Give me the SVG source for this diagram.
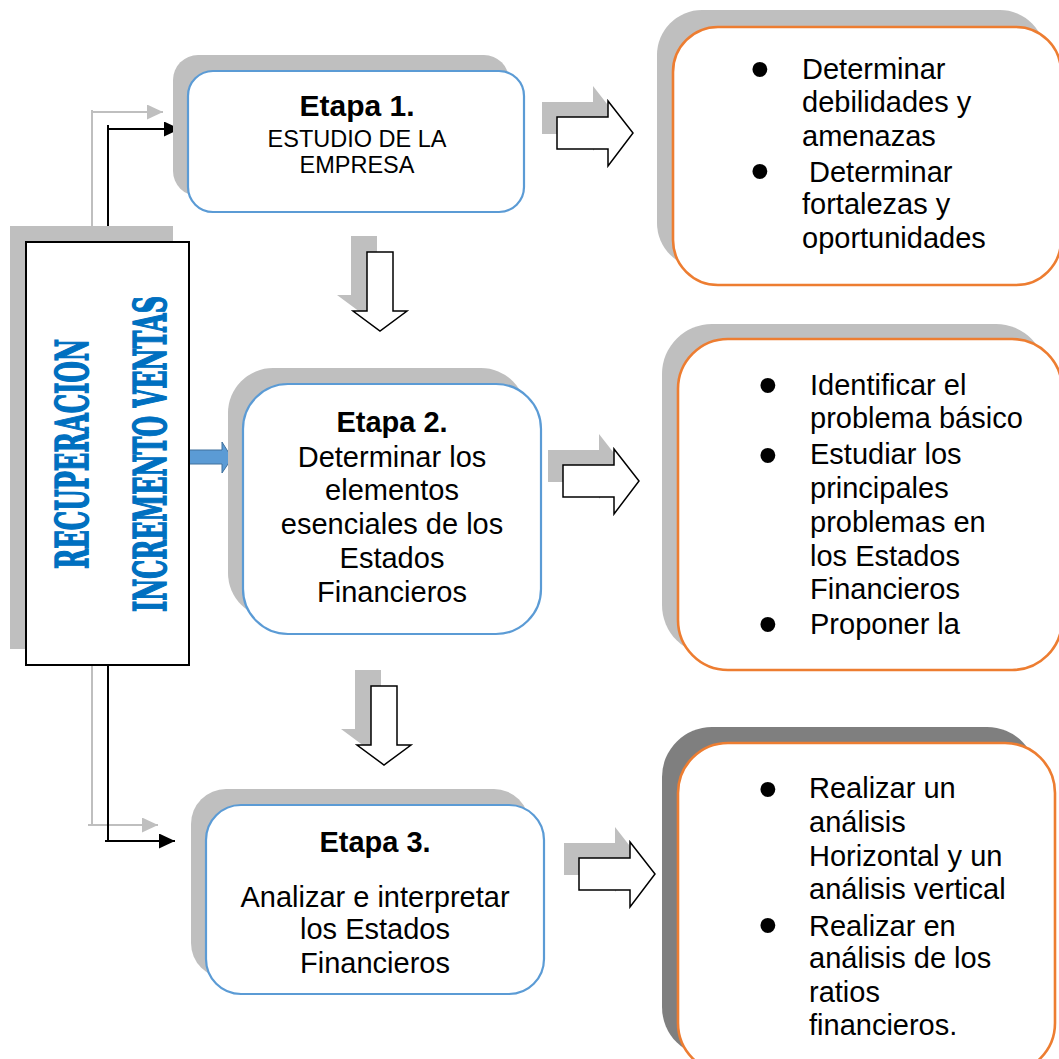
<svg xmlns="http://www.w3.org/2000/svg" xmlns:xlink="http://www.w3.org/1999/xlink" width="1059" height="1059" viewBox="0 0 1059 1059">
<style>
.sh{fill:#bfbfbf}
.shd{fill:#7f7f7f}
.stage{fill:#ffffff;stroke:#5b9bd5;stroke-width:2.2}
.task{fill:#ffffff;stroke:#ed7d31;stroke-width:2.6}
.t{font-family:'Liberation Sans',Arial,sans-serif;font-size:29px;fill:#000}
.tb{font-family:'Liberation Sans',Arial,sans-serif;font-size:29px;font-weight:bold;fill:#000}
.c{text-anchor:middle}
.bul{font-family:'Liberation Sans',Arial,sans-serif;font-size:55px;text-anchor:middle;fill:#000}
.vt{font-family:'DejaVu Serif','Liberation Serif',serif;font-weight:bold;font-size:45px;fill:#0070c0;stroke:#0070c0;stroke-width:1.6;text-anchor:middle}
.blk{fill:#ffffff;stroke:#000;stroke-width:1.5;stroke-linejoin:miter}
.lg{fill:none;stroke:#bfbfbf;stroke-width:2}
.lb{fill:none;stroke:#000;stroke-width:2}
</style>
<defs>
<marker id="ahb" markerUnits="userSpaceOnUse" markerWidth="16" markerHeight="16" refX="16" refY="7.5" orient="auto">
<path d="M0,0 L16,7.5 L0,15 Z" fill="#000"/>
</marker>
<marker id="ahg" markerUnits="userSpaceOnUse" markerWidth="16" markerHeight="16" refX="16" refY="7.5" orient="auto">
<path d="M0,0 L16,7.5 L0,15 Z" fill="#bfbfbf"/>
</marker>
<path id="ra" d="M0,0 H51 V-16 L76,16 L51,49 V32 H0 Z"/>
<path id="da" d="M0,0 H26 V59 H40 L13,79 L-14,59 H0 Z"/>
</defs>

<g id="connectors">
<path class="lg" d="M92,242 V110 M91,112 H163" marker-end="url(#ahg)"/>
<path class="lb" d="M108,242 V125 M107,129 H180" marker-end="url(#ahb)"/>
<path class="lg" d="M92,665 V825 M88,825 H158" marker-end="url(#ahg)"/>
<path class="lb" d="M108,665 V841 M105,841 H175" marker-end="url(#ahb)"/>
<path d="M189,450 H222 V442 L232,458 L222,473 V464 H189 Z" fill="#5b9bd5" stroke="#41719c" stroke-width="1"/>
<use xlink:href="#da" class="sh" x="351" y="236"/>
<use xlink:href="#da" class="blk" x="367" y="252"/>
<use xlink:href="#da" class="sh" x="355" y="670"/>
<use xlink:href="#da" class="blk" x="371" y="686"/>
<use xlink:href="#ra" class="sh" x="542" y="102"/>
<use xlink:href="#ra" class="blk" x="557" y="117"/>
<use xlink:href="#ra" class="sh" x="548" y="450"/>
<use xlink:href="#ra" class="blk" x="563" y="465"/>
<use xlink:href="#ra" class="sh" x="564" y="843"/>
<use xlink:href="#ra" class="blk" x="579" y="858"/>
</g>

<g id="side">
<rect class="sh" x="10" y="226" width="163" height="423"/>
<rect x="26" y="242" width="163" height="423" fill="#fff" stroke="#000" stroke-width="2"/>
<text class="vt" transform="translate(88,454) rotate(-90)" textLength="230" lengthAdjust="spacingAndGlyphs">RECUPERACION</text>
<text class="vt" transform="translate(166,454) rotate(-90)" textLength="316" lengthAdjust="spacingAndGlyphs">INCREMENTO VENTAS</text>
</g>

<g id="etapa1">
<rect class="sh" x="173" y="55" width="336" height="141" rx="25"/>
<rect class="stage" x="188" y="71" width="336" height="141" rx="25"/>
<text class="tb c" x="357" y="116" style="font-size:30px">Etapa 1.</text>
<text class="t c" x="357" y="147" style="font-size:23.5px">ESTUDIO DE LA</text>
<text class="t c" x="357" y="173" style="font-size:23.5px">EMPRESA</text>
</g>

<g id="etapa2">
<rect class="sh" x="228" y="368" width="298" height="250" rx="45"/>
<rect class="stage" x="243" y="384" width="298" height="250" rx="45"/>
<text class="tb c" x="392" y="432">Etapa 2.</text>
<text class="t c" x="392" y="467">Determinar los</text>
<text class="t c" x="392" y="500">elementos</text>
<text class="t c" x="392" y="534">esenciales de los</text>
<text class="t c" x="392" y="568">Estados</text>
<text class="t c" x="392" y="602">Financieros</text>
</g>

<g id="etapa3">
<rect class="sh" x="191" y="789" width="338" height="189" rx="35"/>
<rect class="stage" x="206" y="805" width="338" height="189" rx="35"/>
<text class="tb c" x="375" y="852">Etapa 3.</text>
<text class="t c" x="375" y="907">Analizar e interpretar</text>
<text class="t c" x="375" y="939">los Estados</text>
<text class="t c" x="375" y="973">Financieros</text>
</g>

<g id="tareas1">
<rect class="sh" x="657" y="10" width="388" height="258" rx="45"/>
<rect class="task" x="673" y="27" width="388" height="258" rx="45"/>
<text class="bul" x="760" y="87.5">•</text>
<text class="t" x="802" y="79">Determinar</text>
<text class="t" x="802" y="112">debilidades y</text>
<text class="t" x="802" y="146">amenazas</text>
<text class="bul" x="760" y="189.5">•</text>
<text class="t" x="809" y="182">Determinar</text>
<text class="t" x="802" y="214">fortalezas y</text>
<text class="t" x="802" y="248">oportunidades</text>
</g>

<g id="tareas2">
<rect class="sh" x="662" y="324" width="384" height="331" rx="50"/>
<rect class="task" x="678" y="339" width="384" height="331" rx="50"/>
<text class="bul" x="768" y="403.5">•</text>
<text class="t" x="810" y="395">Identificar el</text>
<text class="t" x="810" y="428">problema básico</text>
<text class="bul" x="768" y="473.5">•</text>
<text class="t" x="810" y="464">Estudiar los</text>
<text class="t" x="810" y="498">principales</text>
<text class="t" x="810" y="532">problemas en</text>
<text class="t" x="810" y="566">los Estados</text>
<text class="t" x="810" y="599">Financieros</text>
<text class="bul" x="768" y="642.5">•</text>
<text class="t" x="810" y="634">Proponer la</text>
</g>

<g id="tareas3">
<rect class="shd" x="662" y="727" width="375" height="330" rx="50"/>
<rect class="task" x="678" y="743" width="377" height="330" rx="50"/>
<text class="bul" x="768" y="807.5">•</text>
<text class="t" x="809" y="798">Realizar un</text>
<text class="t" x="809" y="832">análisis</text>
<text class="t" x="809" y="866">Horizontal y un</text>
<text class="t" x="809" y="899">análisis vertical</text>
<text class="bul" x="768" y="943.5">•</text>
<text class="t" x="809" y="936">Realizar en</text>
<text class="t" x="809" y="968">análisis de los</text>
<text class="t" x="809" y="1002">ratios</text>
<text class="t" x="809" y="1035">financieros.</text>
</g>
</svg>
